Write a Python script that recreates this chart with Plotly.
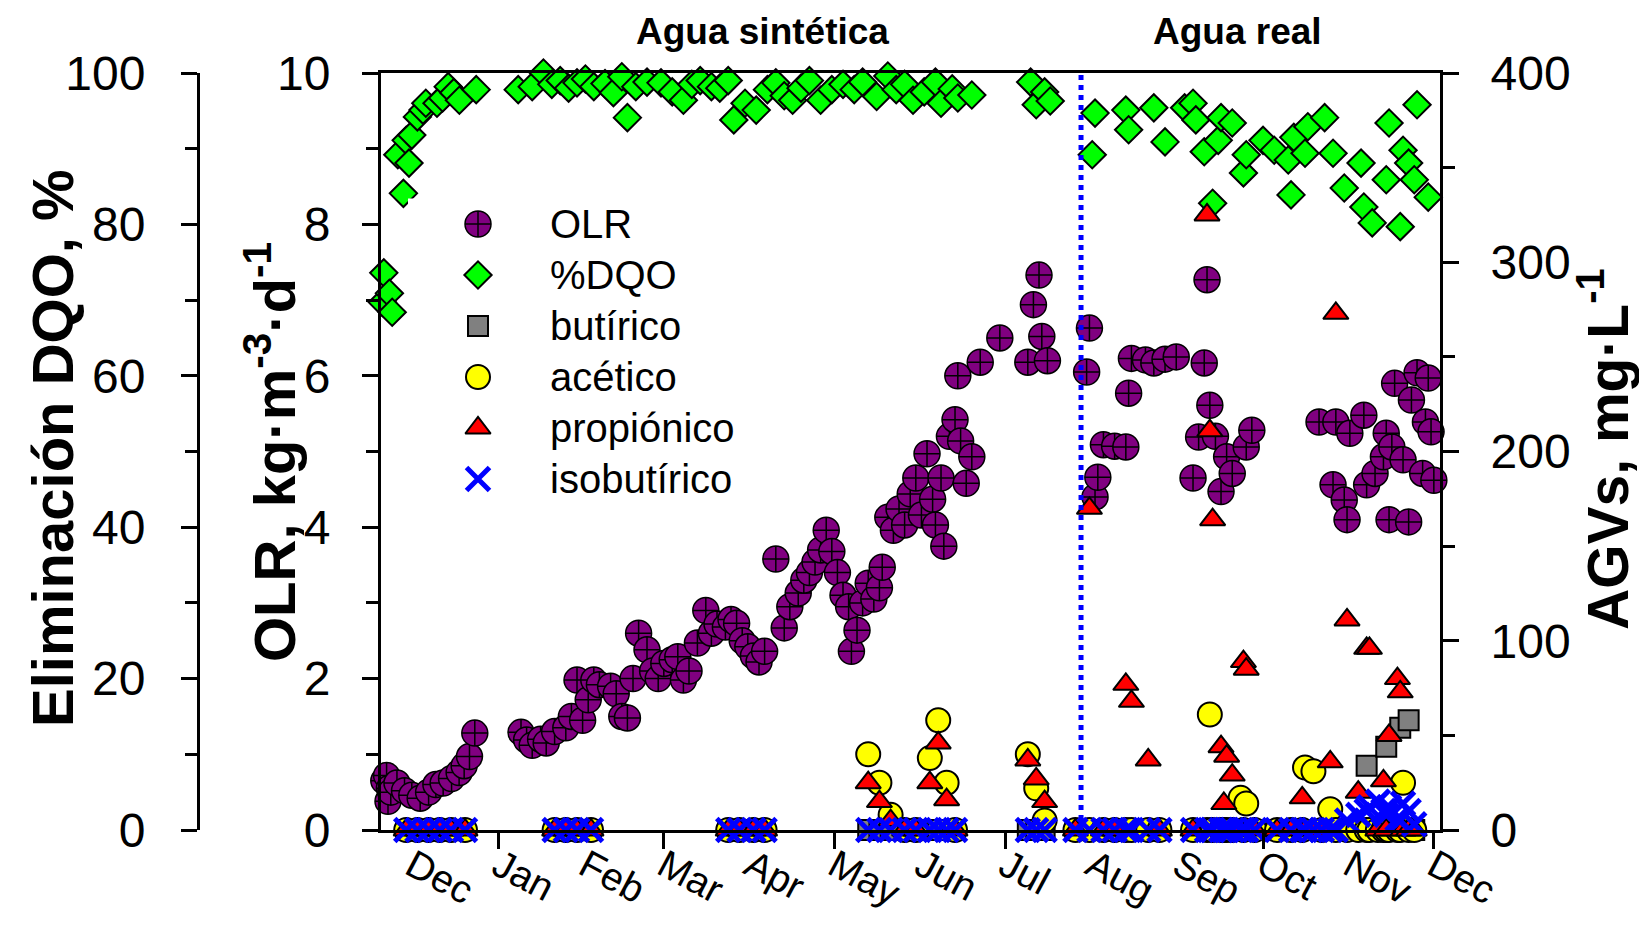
import pandas as pd
import plotly.graph_objects as go

# ---------------- datos ----------------
inicio = pd.Timestamp("2013-11-20")   # día 0 de operación
cambio_agua = 250                      # día en que se pasa de agua sintética a agua real
dia_final = 378.2                      # fin del eje x (días)

olr_dias = [1, 2, 2.5, 3, 3.5, 5.7, 8.4, 11, 14, 17, 19.6, 22.2, 25.2, 27.9, 29.7, 31.6, 33.5,
            50, 52, 54, 57, 59, 62, 66, 68, 70, 72, 74, 76, 78, 82, 84, 86, 88, 90, 92, 95, 97, 99,
            101, 104, 106, 108, 110, 113, 116, 118, 120, 123, 125, 127, 129, 131, 133, 135, 137,
            141, 144, 146, 149, 151, 153, 155, 157, 159, 161, 163, 165, 167, 168, 170, 172, 174,
            176, 178, 179, 181, 183, 185, 187, 189, 191, 193, 195, 197, 198, 200, 201, 203, 205,
            206, 207, 209, 211, 214, 221, 231, 233, 235, 236, 238,
            252, 253, 255, 256, 258, 262, 266, 267, 268, 273, 276, 280, 284, 290, 292, 294, 295,
            296, 298, 300, 302, 304, 309, 311, 335, 340, 341, 344, 345, 346, 351, 352, 355, 358,
            359, 360, 361, 362, 365, 367, 368, 370, 372, 373, 374, 375, 376]
olr = [0.65, 0.72, 0.38, 0.55, 0.50, 0.62, 0.52, 0.46, 0.42, 0.50, 0.60, 0.62, 0.68, 0.76, 0.85, 0.97, 1.28,
       1.29, 1.19, 1.12, 1.20, 1.15, 1.30, 1.35, 1.50, 1.98, 1.45, 1.72, 1.98, 1.92, 1.90, 1.80, 1.50, 1.48, 2.00, 2.60, 2.38, 2.10, 2.00,
       2.20, 2.25, 2.29, 1.98, 2.10, 2.47, 2.90, 2.60, 2.72, 2.68, 2.78, 2.73, 2.50, 2.42, 2.30, 2.22, 2.36,
       3.58, 2.67, 2.95, 3.13, 3.30, 3.40, 3.54, 3.70, 3.96, 3.68, 3.40, 3.10, 2.95, 2.36, 2.64, 3.00, 3.26,
       3.05, 3.20, 3.47, 4.13, 3.96, 4.24, 4.03, 4.44, 4.65, 4.16, 4.97, 4.37, 4.03, 4.65, 3.75, 5.20, 5.42,
       6.00, 5.14, 4.58, 4.93, 6.18, 6.50, 6.18, 6.94, 7.33, 6.52, 6.20,
       6.05, 6.63, 4.40, 4.66, 5.09, 5.07, 5.06, 5.77, 6.23, 6.21, 6.17, 6.22, 6.25, 4.65, 5.19, 6.17, 7.27,
       5.61, 5.20, 4.47, 4.93, 4.71, 5.06, 5.28, 5.39, 4.56, 5.39, 4.36, 4.10, 5.24, 5.48, 4.56, 4.71, 4.93,
       5.24, 4.10, 5.06, 5.90, 4.89, 4.07, 5.68, 6.04, 4.71, 5.39, 5.97, 5.26, 4.62]

dqo_dias = [0.5, 1, 3, 4, 6, 8, 9, 10, 11, 13, 15, 16, 20, 22, 24, 26, 28, 34,
            49, 54, 58, 61, 64, 67, 70, 73, 76, 80, 83, 86, 88, 91, 95, 100, 104, 108, 111, 114, 118,
            121, 124, 126, 130, 134, 138, 141, 144, 147, 150, 153, 157, 161, 165, 169, 172, 177, 181,
            184, 187, 190, 194, 198, 200, 204, 206, 211, 232, 234, 237, 239,
            254, 255, 266, 267, 276, 280, 287, 290, 291, 294, 297, 299, 300, 304, 308, 309, 315, 319,
            324, 325, 326, 330, 331, 337, 340, 344, 350, 351, 354, 359, 360, 364, 365, 367, 369, 370, 374]
dqo = [69.7, 73.6, 70.9, 68.4, 89.2, 84.1, 91.1, 88.1, 91.8, 94.2, 95.1, 96.0, 96.0, 96.7, 98.2, 97.4, 96.4, 97.8,
       97.8, 98.2, 100.0, 98.5, 99.0, 98.0, 98.7, 99.2, 98.2, 98.6, 97.4, 99.5, 94.1, 98.2, 98.8, 98.7, 97.5, 96.4, 98.5, 99.0, 98.2,
       98.0, 99.0, 93.8, 96.0, 95.1, 97.8, 98.7, 97.0, 96.4, 98.0, 99.0, 96.4, 97.8, 98.5, 97.8, 98.8, 96.9, 99.6,
       97.8, 98.5, 96.4, 97.5, 98.8, 96.0, 97.9, 96.7, 97.1, 98.8, 95.8, 97.5, 96.3,
       89.2, 94.7, 95.1, 92.5, 95.4, 90.9, 95.4, 96.0, 93.8, 89.6, 82.8, 91.1, 94.1, 93.4, 86.8, 89.2, 91.1, 89.8,
       88.5, 83.9, 91.5, 89.4, 92.9, 94.1, 89.4, 84.8, 88.1, 82.3, 80.2, 85.9, 93.4, 79.7, 89.8, 88.1, 85.9, 95.8, 83.6]

agv_dias = [9, 13, 17, 21, 25, 30,
            62, 66, 70, 75,
            124, 128, 133, 137,
            174, 178, 182, 187, 191, 196, 199, 202, 205,
            231, 234, 237,
            248, 253, 258, 262, 266, 268, 274, 278,
            290, 295, 296, 297, 300, 301, 302, 304, 307, 308, 309, 312,
            320, 325, 329, 330, 333, 336, 339, 341, 345, 349, 352, 353, 356, 358, 359, 360, 363, 364, 365, 367, 369]
butirico = [0, 0, 0, 0, 0, 0,
            0, 0, 0, 0,
            0, 0, 0, 0,
            0, 0, 0, 0, 0, 0, 0, 0, 0,
            0, 0, 0,
            0, 0, 0, 0, 0, 0, 0, 0,
            0, 0, 0, 0, 0, 0, 0, 0, 0, 0, 0, 0,
            0, 0, 0, 0, 0, 0, 0, 0, 0, 0, 34, 0, 0, 0, 44, 0, 0, 54, 0, 58, 0]
acetico = [0, 0, 0, 0, 0, 0,
           0, 0, 0, 0,
           0, 0, 0, 0,
           40, 25, 8, 0, 0, 38, 58, 25, 0,
           40, 22, 5,
           0, 0, 0, 0, 0, 0, 0, 0,
           0, 0, 61, 0, 0, 0, 0, 0, 17, 0, 14, 0,
           0, 0, 0, 33, 31, 0, 11, 0, 0, 0, 0, 0, 0, 0, 0, 0, 0, 0, 25, 0, 0]
propionico = [0, 0, 0, 0, 0, 0,
              0, 0, 0, 0,
              0, 0, 0, 0,
              25, 15, 5, 0, 0, 25, 46, 16, 0,
              37, 27, 15,
              0, 170, 0, 0, 77, 68, 37, 0,
              0, 325, 211, 164, 44, 14, 39, 29, 0, 89, 85, 0,
              0, 0, 17, 0, 0, 0, 36, 273, 111, 20, 96, 96, 0, 26, 0, 50, 80, 73, 0, 0, 0]
isobutirico = [0, 0, 0, 0, 0, 0,
               0, 0, 0, 0,
               0, 0, 0, 0,
               0, 0, 0, 0, 0, 0, 0, 0, 0,
               0, 0, 0,
               0, 0, 0, 0, 0, 0, 0, 0,
               0, 0, 0, 0, 0, 0, 0, 0, 0, 0, 0, 0,
               0, 0, 0, 0, 0, 0, 0, 0, 5, 8, 10, 12, 15, 10, 8, 12, 6, 5, 14, 10, 3]

meses = ["Dec", "Jan", "Feb", "Mar", "Apr", "May", "Jun", "Jul", "Aug", "Sep", "Oct", "Nov", "Dec"]
meses_fechas = pd.date_range("2013-12-01", periods=len(meses), freq="MS")
marcas_x = ["2014-01-01", "2014-03-01", "2014-05-01", "2014-07-01", "2014-10-01", "2014-12-01"]

# ---------------- figura ----------------
W, H = 1631, 909          # la página añade 8 px de margen
FONT = "Liberation Sans, Arial, sans-serif"


def px(xp):               # posición horizontal en la página -> fracción del papel
    return (xp - 8) / W


def py(yp):               # posición vertical en la página -> fracción del papel
    return 1 - (yp - 8) / H


def fechas(d):
    return inicio + pd.to_timedelta(pd.Series(d, dtype=float), unit="D")


estilo = {
    "OLR": dict(symbol="circle-cross", size=26, color="#800080", line=dict(color="black", width=1.5)),
    "%DQO": dict(symbol="diamond", size=21, color="#00FF00", line=dict(color="black", width=2)),
    "butírico": dict(symbol="square", size=20, color="#808080", line=dict(color="black", width=2)),
    "acético": dict(symbol="circle", size=24, color="#FFFF00", line=dict(color="black", width=2)),
    "propiónico": dict(symbol="triangle-up", size=22, color="#FF0000", line=dict(color="black", width=2)),
    "isobutírico": dict(symbol="x-thin", size=23, color="#0000FF", line=dict(color="#0000FF", width=5)),
}
series = [("OLR", olr_dias, olr, "y"),
          ("%DQO", dqo_dias, dqo, "y2"),
          ("butírico", agv_dias, butirico, "y3"),
          ("acético", agv_dias, acetico, "y3"),
          ("propiónico", agv_dias, propionico, "y3"),
          ("isobutírico", agv_dias, isobutirico, "y3")]

fig = go.Figure()
for nombre, dias, vals, eje in series:
    fig.add_trace(go.Scatter(x=fechas(dias), y=vals, mode="markers", name=nombre, yaxis=eje,
                             cliponaxis=False, showlegend=False, marker=estilo[nombre]))

# leyenda (marcadores a tamaño real)
for i, (nombre, _, _, _) in enumerate(series):
    fig.add_trace(go.Scatter(x=[0], y=[i], mode="markers", xaxis="x2", yaxis="y4",
                             cliponaxis=False, showlegend=False, hoverinfo="skip",
                             marker=estilo[nombre]))
    fig.add_annotation(text=nombre, x=1, y=i, xref="x2", yref="y4", xanchor="left",
                       yanchor="middle", showarrow=False,
                       font=dict(family=FONT, size=40, color="black"))

# línea de cambio de agua
fig.add_shape(type="line", xref="x", yref="y",
              x0=inicio + pd.Timedelta(days=cambio_agua), x1=inicio + pd.Timedelta(days=cambio_agua),
              y0=0, y1=10, line=dict(color="#0000FF", width=5, dash="dot"))

x_range = [inicio, inicio + pd.Timedelta(days=dia_final)]
XD = [px(381), px(1440)]
YD = [py(830), py(73)]

axis_common = dict(showgrid=False, zeroline=False, showline=True, linecolor="black", linewidth=3,
                   ticks="outside", ticklen=16, tickwidth=3, tickcolor="black",
                   tickfont=dict(family=FONT, size=48, color="black"))

fig.update_layout(
    width=W, height=H,
    margin=dict(l=0, r=0, t=0, b=0, autoexpand=False),
    plot_bgcolor="white", paper_bgcolor="white",
    font=dict(family=FONT, color="black"),
    showlegend=False,
    xaxis=dict(domain=XD, type="date", range=x_range, anchor="y",
               tickvals=meses_fechas, ticktext=meses, tickangle=28,
               ticks="inside", ticklen=0, tickcolor="rgba(0,0,0,0)", ticklabelstandoff=-5,
               minor=dict(tickvals=marcas_x, ticks="outside", ticklen=16, tickwidth=3,
                          tickcolor="black", showgrid=False),
               tickfont=dict(family=FONT, size=39, color="black"),
               showgrid=False, zeroline=False, showline=True, linecolor="black", linewidth=3,
               mirror=True),
    yaxis=dict(domain=YD, range=[0, 10], tickvals=list(range(0, 11, 2)), anchor="x",
               minor=dict(dtick=1, ticks="outside", ticklen=12, tickwidth=3, tickcolor="black",
                          showgrid=False),
               ticklabelstandoff=22, **axis_common),
    yaxis2=dict(overlaying="y", anchor="free", position=px(198), side="left",
                range=[0, 100], tickvals=list(range(0, 101, 20)),
                minor=dict(dtick=10, ticks="outside", ticklen=12, tickwidth=3, tickcolor="black",
                           showgrid=False),
                ticklabelstandoff=26, **axis_common),
    yaxis3=dict(overlaying="y", anchor="x", side="right",
                range=[0, 400], tickvals=list(range(0, 401, 100)),
                minor=dict(dtick=50, ticks="outside", ticklen=12, tickwidth=3, tickcolor="black",
                           showgrid=False),
                ticklabelstandoff=22, **axis_common),
    xaxis2=dict(domain=[px(408), px(548)], range=[-1, 1], anchor="y4", visible=False),
    yaxis4=dict(domain=[py(504.5), py(198.5)], range=[5.5, -0.5], anchor="x2", visible=False),
)

anotaciones = [
    dict(text="<b>Eliminación DQO, %</b>", x=px(52), y=py(448), textangle=-90, size=58),
    dict(text="<b>OLR, kg·m<sup>-3</sup>·d<sup>-1</sup></b>", x=px(270), y=py(452), textangle=-90, size=58),
    dict(text="<b>AGVs, mg·L<sup>-1</sup></b>", x=px(1604), y=py(449), textangle=-90, size=57),
    dict(text="<b>Agua sintética</b>", x=px(762), y=py(31.5), textangle=0, size=37),
    dict(text="<b>Agua real</b>", x=px(1237), y=py(31.5), textangle=0, size=37),
]
for a in anotaciones:
    fig.add_annotation(text=a["text"], x=a["x"], y=a["y"], xref="paper", yref="paper",
                       xanchor="center", yanchor="middle", textangle=a["textangle"],
                       showarrow=False, font=dict(family=FONT, size=a["size"], color="black"))

fig.write_html("out.html")
